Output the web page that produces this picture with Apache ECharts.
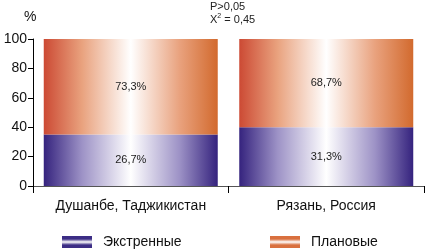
<!DOCTYPE html>
<html><head><meta charset="utf-8">
<script src="https://cdn.jsdelivr.net/npm/echarts@6/dist/echarts.min.js"></script>
<style>html,body{margin:0;padding:0;background:#fff}#c{width:426px;height:251px}</style>
</head><body><div id="c"></div>
<script>
var categories = ['Душанбе, Таджикистан', 'Рязань, Россия'];
var emergencyValues = [35, 40];
var plannedValues = [65, 60];
var emergencyLabels = ['26,7%', '31,3%'];
var plannedLabels = ['73,3%', '68,7%'];
var yTicks = [0, 20, 40, 60, 80, 100];
var seriesNames = ['Экстренные', 'Плановые'];

var FONT = "'Liberation Sans Narrow', 'Arial Narrow', 'Liberation Sans', sans-serif";
var SFONT = "'Liberation Sans', Arial, sans-serif";
var chart = echarts.init(document.getElementById('c'), null, {renderer: 'canvas'});

function hGrad(edgeL, mid, edgeR) {
  return new echarts.graphic.LinearGradient(0, 0, 1, 0, [
    {offset: 0, color: edgeL},
    {offset: 0.22, color: mid},
    {offset: 0.5, color: '#ffffff'},
    {offset: 0.78, color: mid},
    {offset: 1, color: edgeR}
  ]);
}
var purpleBar = hGrad('#35237e', '#9d92c6', '#35237e');
var orangeBar = hGrad('#cc4a34', '#e9a27e', '#d26a2e');
function vGrad(edge) {
  return new echarts.graphic.LinearGradient(0, 0, 0, 1, [
    {offset: 0, color: edge}, {offset: 0.25, color: edge},
    {offset: 0.5, color: '#ffffff'},
    {offset: 0.75, color: edge}, {offset: 1, color: edge}
  ]);
}

chart.setOption({
  animation: false,
  grid: {left: 33, right: 2, top: 39, bottom: 65},
  xAxis: {
    type: 'category', data: categories,
    axisLine: {lineStyle: {color: '#555', width: 1}},
    axisTick: {show: true, length: 7, lineStyle: {color: '#000'}},
    axisLabel: {color: '#111', fontSize: 14, fontFamily: FONT, margin: 13, interval: 0}
  },
  yAxis: {
    type: 'value', min: 0, max: 100, interval: 20,
    axisLine: {show: true, lineStyle: {color: '#000'}},
    axisTick: {show: true, length: 5, lineStyle: {color: '#000'}},
    splitLine: {show: false},
    axisLabel: {color: '#111', fontSize: 14, fontFamily: FONT, margin: 6,
      formatter: function (v) { return yTicks.indexOf(v) >= 0 ? String(v) : ''; }}
  },
  legend: [
    {data: [{name: seriesNames[0], itemStyle: {color: vGrad('#3c2d85')}}], left: 62, top: 235, padding: 0,
     itemWidth: 30, itemHeight: 12, icon: 'rect',
     textStyle: {fontSize: 14, fontFamily: FONT, color: '#111', padding: [0, 0, 0, 6]}},
    {data: [{name: seriesNames[1], itemStyle: {color: vGrad('#d9703e')}}], left: 270, top: 235, padding: 0,
     itemWidth: 30, itemHeight: 12, icon: 'rect',
     textStyle: {fontSize: 14, fontFamily: FONT, color: '#111', padding: [0, 0, 0, 6]}}
  ],
  series: [
    {name: seriesNames[0], type: 'bar', stack: 's', barWidth: '89%', data: emergencyValues,
     itemStyle: {color: purpleBar},
     label: {show: true, position: 'inside', color: '#222', fontSize: 11, fontFamily: SFONT,
       formatter: function (p) { return emergencyLabels[p.dataIndex]; }}},
    {name: seriesNames[1], type: 'bar', stack: 's', barWidth: '89%', data: plannedValues,
     itemStyle: {color: orangeBar},
     label: {show: true, position: 'inside', color: '#222', fontSize: 11, fontFamily: SFONT,
       formatter: function (p) { return plannedLabels[p.dataIndex]; }}}
  ],
  graphic: [
    {type: 'text', left: 24, top: 10, style: {text: '%', fontSize: 14, fontFamily: FONT, fill: '#111'}},
    {type: 'text', left: 210, top: 1, style: {text: 'P>0,05', fontSize: 11, fontFamily: SFONT, fill: '#222'}},
    {type: 'text', left: 210, top: 13, style: {
      text: 'X{s|2} = 0,45', fontSize: 11, fontFamily: SFONT, fill: '#222',
      rich: {s: {fontSize: 7, verticalAlign: 'top', padding: [0, 0, 6, 0], fontFamily: SFONT, fill: '#222'}}}}
  ]
});
</script></body></html>
